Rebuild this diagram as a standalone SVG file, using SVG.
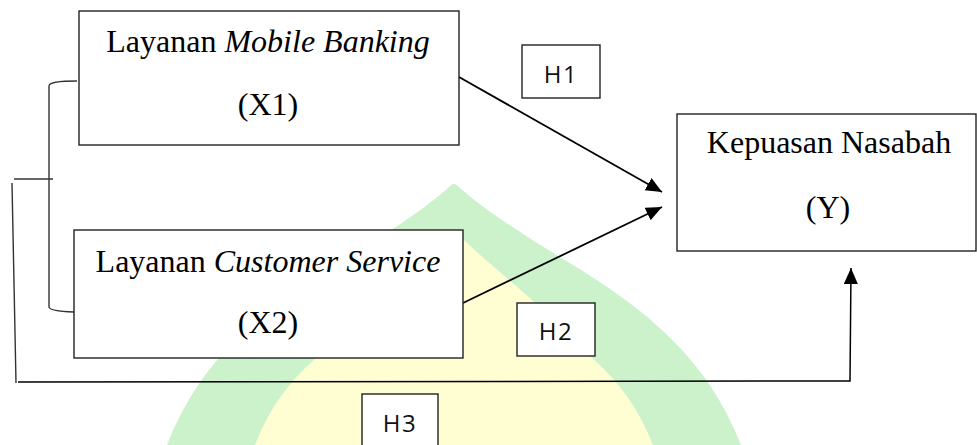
<svg xmlns="http://www.w3.org/2000/svg" width="977" height="445" viewBox="0 0 977 445">
  <defs>
    <marker id="arrow" markerUnits="userSpaceOnUse" markerWidth="17" markerHeight="15" refX="16" refY="7" orient="auto">
      <path d="M0,0 L16,7 L0,14 Z" fill="#000"/>
    </marker>
    <style>
      .box { fill: #fff; stroke: #222; stroke-width: 1.4; }
      .tag { fill: #fff; stroke: #222; stroke-width: 1.4; }
      .serif { font-family: "Liberation Serif", "Times New Roman", serif; font-size: 32px; fill: #000; text-anchor: middle; }
      .sans { font-family: "Open Sans", "Liberation Sans", sans-serif; font-size: 24px; letter-spacing: 1.5px; fill: #111; text-anchor: middle; }
      .line { fill: none; stroke: #000; stroke-width: 1.8; }
      .thin { fill: none; stroke: #333; stroke-width: 1.4; }
    </style>
  </defs>

  <rect width="977" height="445" fill="#fff"/>

  <!-- background emblem: green dome with yellow core -->
  <g id="emblem">
    <path d="M167,445 C200,360 260,310 340,262 C390,232 430,205 450,186 Q454,182 458,186 C478,205 518,232 568,262 C648,310 708,360 741,445 Z" fill="#ccf2cc"/>
    <path d="M255,445 C275,395 300,370 335,342 C370,300 420,265 450,234 Q454,230 458,234 C488,265 538,300 573,342 C608,370 633,395 653,445 Z" fill="#fefed2"/>
  </g>

  <!-- connectors -->
  <g id="connectors">
    <path class="line" d="M459,77 L662,192" marker-end="url(#arrow)"/>
    <path class="line" d="M463,303 L662,207" marker-end="url(#arrow)"/>
    <path class="thin" d="M77,81 Q49,81 49,86 L49,307 Q49,311 74,312"/>
    <path class="thin" d="M14,179 L53,179"/>
    <path class="thin" d="M12,183 L16,383"/>
    <path class="line" d="M18,382 L850,381 L851,268" marker-end="url(#arrow)" style="stroke-width:1.5"/>
  </g>

  <!-- nodes -->
  <g id="x1">
    <rect class="box" x="79" y="11" width="380" height="134"/>
    <text class="serif" x="268" y="52">Layanan <tspan font-style="italic">Mobile Banking</tspan></text>
    <text class="serif" x="268" y="115">(X1)</text>
  </g>

  <g id="x2">
    <rect class="box" x="74" y="230" width="389" height="128"/>
    <text class="serif" x="268" y="272">Layanan <tspan font-style="italic">Customer Service</tspan></text>
    <text class="serif" x="268" y="333">(X2)</text>
  </g>

  <g id="y">
    <rect class="box" x="677" y="114" width="299" height="137"/>
    <text class="serif" x="829" y="153">Kepuasan Nasabah</text>
    <text class="serif" x="828" y="218">(Y)</text>
  </g>

  <g id="h1">
    <rect class="tag" x="522" y="45" width="78" height="53"/>
    <text class="sans" x="561" y="83">H1</text>
  </g>

  <g id="h2">
    <rect class="tag" x="517" y="303" width="78" height="53"/>
    <text class="sans" x="556" y="340">H2</text>
  </g>

  <g id="h3">
    <rect class="tag" x="362" y="394" width="76" height="60"/>
    <text class="sans" x="400" y="432">H3</text>
  </g>
</svg>
